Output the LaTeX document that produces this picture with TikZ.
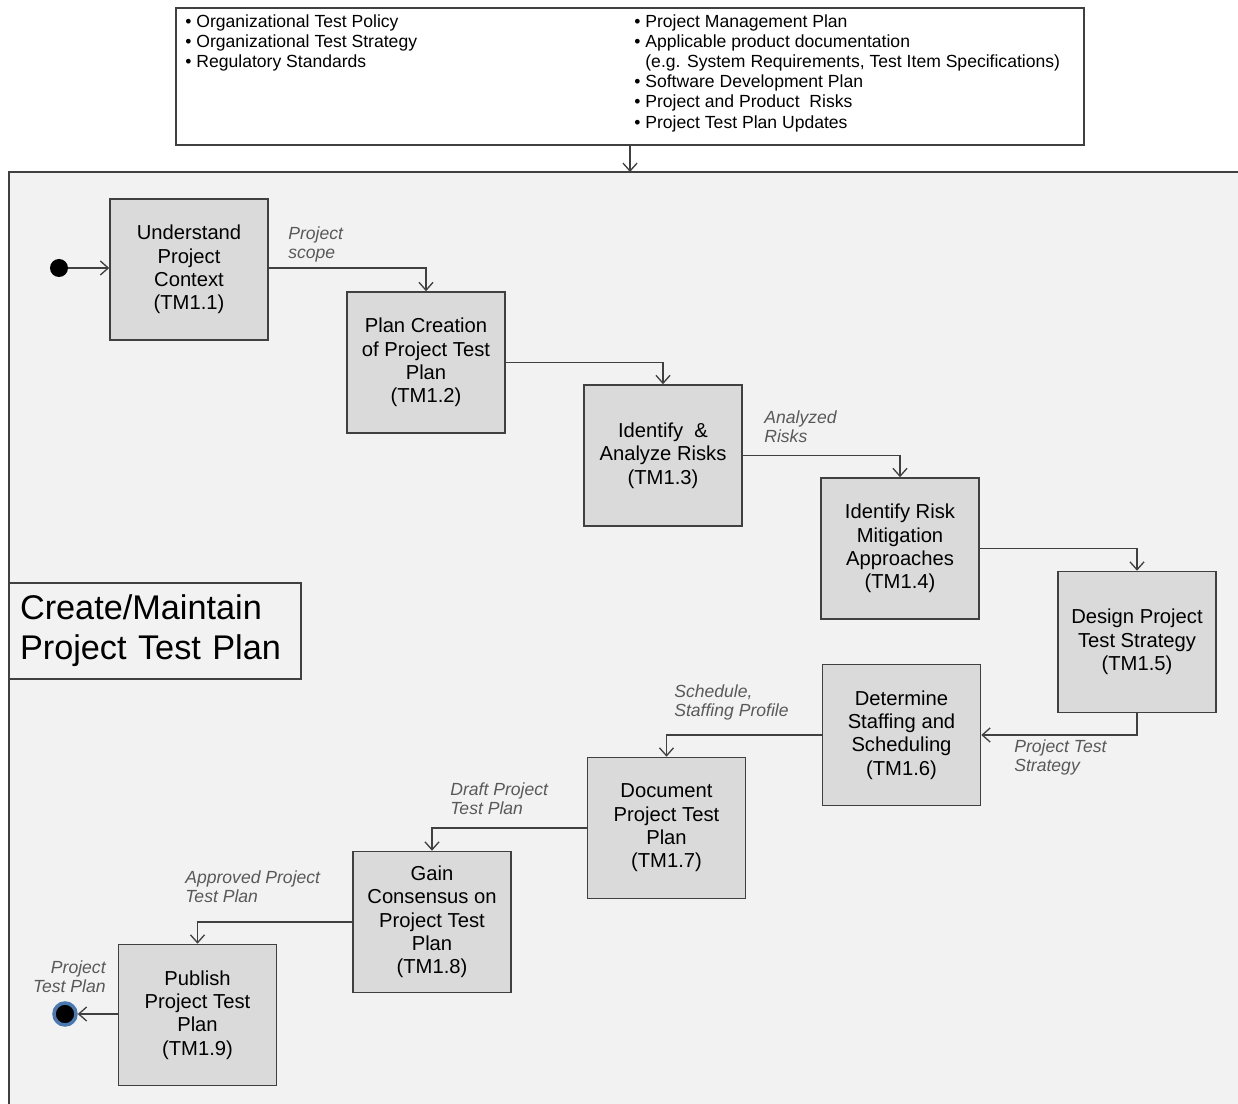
\documentclass[tikz,border=0pt]{standalone}
\usepackage{fontspec}
\setmainfont{Liberation Sans}
\usetikzlibrary{arrows.meta}

\definecolor{boxgray}{HTML}{DADADA}
\definecolor{bggray}{HTML}{F2F2F2}
\definecolor{edgegray}{HTML}{404040}
\definecolor{labelgray}{HTML}{595959}
\definecolor{endblue}{HTML}{4A78B0}

\begin{document}
\begin{tikzpicture}[x=0.02cm, y=-0.02cm,
        proc/.style={rectangle, draw=edgegray, line width=0.9pt, fill=boxgray, minimum width=3.16cm, minimum height=2.82cm, align=center, inner sep=0pt, font=\fontsize{11.5}{13.3}\selectfont},
        flow/.style={draw=edgegray, line width=0.75pt, -{Straight Barb[length=4.5pt,width=8pt]}},
        lbl/.style={font=\fontsize{10}{11.3}\selectfont\itshape, text=labelgray, align=left, inner sep=0pt, anchor=north west},
        inlist/.style={font=\fontsize{10}{11.5}\selectfont, align=left, inner sep=0pt, anchor=north west}]

    \useasboundingbox (0,0) rectangle (1238,1104);
    \fill[white] (0,0) rectangle (1238,1104);

    % activity frame (runs off the right and bottom edges)
    \fill[bggray] (9,172) rectangle (1238,1104);
    \draw[edgegray, line width=0.8pt] (9,1104) -- (9,172) -- (1238,172);
    \coordinate (frametop) at (630,172);

    % inputs
    \node (inputs) [draw=edgegray, line width=0.7pt, fill=white, minimum width=18.16cm, minimum height=2.74cm, inner sep=0pt] at (630,76.5) {};
    \node (inleft) [inlist] at (185,14) {\textbullet\ Organizational Test Policy\\\textbullet\ Organizational Test Strategy\\\textbullet\ Regulatory Standards};
    \node (inright) [inlist] at (634,14) {\textbullet\ Project Management Plan\\\textbullet\ Applicable product documentation\\\phantom{\textbullet\ }(e.g. System Requirements, Test Item Specifications)\\\textbullet\ Software Development Plan\\\textbullet\ Project and Product\ \ Risks\\\textbullet\ Project Test Plan Updates};
    \draw[flow] (inputs.south) -- (frametop);

    % title
    \node (title) [draw=edgegray, line width=0.7pt, minimum width=5.84cm, minimum height=1.92cm, text width=5.40cm, inner xsep=0.22cm, align=left, font=\fontsize{19.5}{22.7}\selectfont] at (155,631) {Create/Maintain\\Project Test Plan};

    % activities
    \node (ctx) [proc] at (189,269.5) {Understand\\Project\\Context\\(TM1.1)};
    \node (plan) [proc] at (426,362.5) {Plan Creation\\of Project Test\\Plan\\(TM1.2)};
    \node (risk) [proc] at (663,455.5) {Identify\ \ \&\\Analyze Risks\\(TM1.3)};
    \node (mitig) [proc] at (900,548.5) {Identify Risk\\Mitigation\\Approaches\\(TM1.4)};
    \node (strat) [proc] at (1137,642) {Design Project\\Test Strategy\\(TM1.5)};
    \node (staff) [proc] at (901.5,735) {Determine\\Staffing and\\Scheduling\\(TM1.6)};
    \node (doc) [proc] at (666.5,828) {Document\\Project Test\\Plan\\(TM1.7)};
    \node (cons) [proc] at (432,922) {Gain\\Consensus on\\Project Test\\Plan\\(TM1.8)};
    \node (pub) [proc] at (197.5,1015) {Publish\\Project Test\\Plan\\(TM1.9)};

    % start and end
    \node (start) [circle, fill=black, minimum size=0.36cm, inner sep=0pt] at (59,268) {};
    \node (stop) [circle, fill=black, draw=endblue, line width=2pt, minimum size=0.44cm, inner sep=0pt] at (65,1014) {};

    % flows
    \draw[flow] (start) -- (start -| ctx.west);
    \draw[flow] (ctx.east |- start) -| (plan.north);
    \draw[flow] (plan.east) -| (risk.north);
    \draw[flow] (risk.east) -| (mitig.north);
    \draw[flow] (mitig.east) -| (strat.north);
    \draw[flow] (strat.south) |- (staff.east);
    \draw[flow] (staff.west) -| (doc.north);
    \draw[flow] (doc.west) -| (cons.north);
    \draw[flow] (cons.west) -| (pub.north);
    \draw[flow] (pub.west |- stop) -- (stop);

    % flow labels
    \node (l1) [lbl] at (288,226) {Project\\scope};
    \node (l3) [lbl] at (764,410) {Analyzed\\Risks};
    \node (l5) [lbl] at (1014,739) {Project Test\\Strategy};
    \node (l6) [lbl] at (674,684) {Schedule,\\Staffing Profile};
    \node (l7) [lbl] at (450,782) {Draft Project\\Test Plan};
    \node (l8) [lbl] at (185,870) {Approved Project\\Test Plan};
    \node (l9) [lbl, anchor=north east, align=right] at (106,960) {Project\\Test Plan};

\end{tikzpicture}
\end{document}
